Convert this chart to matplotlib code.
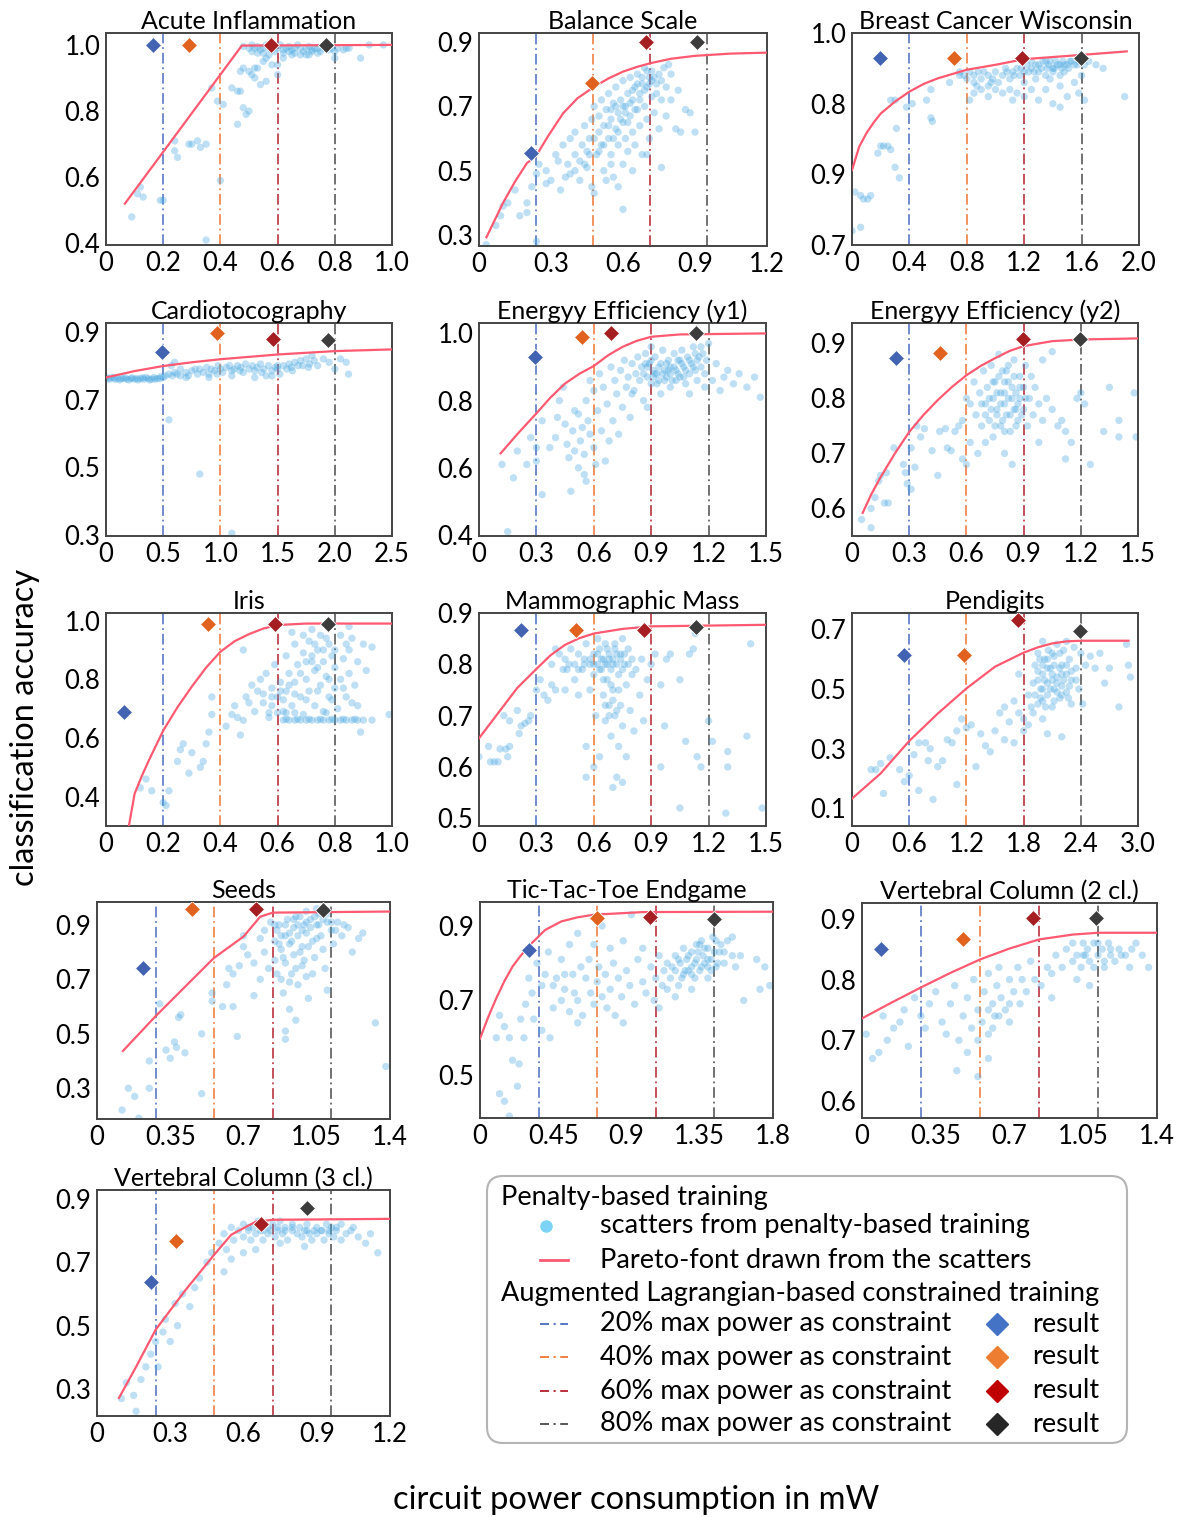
import matplotlib
matplotlib.use("Agg")
import matplotlib.pyplot as plt
from matplotlib.patches import FancyBboxPatch
from matplotlib.lines import Line2D

plt.rcParams["font.family"] = ["Lato", "DejaVu Sans"]

W, H = 1182, 1517

# ---------------- data ----------------
TITLES = ["Acute Inflammation", "Balance Scale", "Breast Cancer Wisconsin",
          "Cardiotocography", "Energyy Efficiency (y1)", "Energyy Efficiency (y2)",
          "Iris", "Mammographic Mass", "Pendigits",
          "Seeds", "Tic-Tac-Toe Endgame", "Vertebral Column (2 cl.)",
          "Vertebral Column (3 cl.)"]

XLIMS = [(0, 1.0), (0, 1.2), (0, 2.0), (0, 2.5), (0, 1.5), (0, 1.5), (0, 1.0),
         (0, 1.5), (0, 3.0), (0, 1.4), (0, 1.8), (0, 1.4), (0, 1.2)]
XTICKS = [[0, 0.2, 0.4, 0.6, 0.8, 1.0], [0, 0.3, 0.6, 0.9, 1.2],
          [0, 0.4, 0.8, 1.2, 1.6, 2.0], [0, 0.5, 1.0, 1.5, 2.0, 2.5],
          [0, 0.3, 0.6, 0.9, 1.2, 1.5], [0, 0.3, 0.6, 0.9, 1.2, 1.5],
          [0, 0.2, 0.4, 0.6, 0.8, 1.0], [0, 0.3, 0.6, 0.9, 1.2, 1.5],
          [0, 0.6, 1.2, 1.8, 2.4, 3.0], [0, 0.35, 0.7, 1.05, 1.4],
          [0, 0.45, 0.9, 1.35, 1.8], [0, 0.35, 0.7, 1.05, 1.4],
          [0, 0.3, 0.6, 0.9, 1.2]]
XTICKLABELS = [["0", "0.2", "0.4", "0.6", "0.8", "1.0"], ["0", "0.3", "0.6", "0.9", "1.2"],
               ["0", "0.4", "0.8", "1.2", "1.6", "2.0"], ["0", "0.5", "1.0", "1.5", "2.0", "2.5"],
               ["0", "0.3", "0.6", "0.9", "1.2", "1.5"], ["0", "0.3", "0.6", "0.9", "1.2", "1.5"],
               ["0", "0.2", "0.4", "0.6", "0.8", "1.0"], ["0", "0.3", "0.6", "0.9", "1.2", "1.5"],
               ["0", "0.6", "1.2", "1.8", "2.4", "3.0"], ["0", "0.35", "0.7", "1.05", "1.4"],
               ["0", "0.45", "0.9", "1.35", "1.8"], ["0", "0.35", "0.7", "1.05", "1.4"],
               ["0", "0.3", "0.6", "0.9", "1.2"]]

YLIMS = [(0.395, 1.036), (0.266, 0.928), (0.7, 1.0), (0.297, 0.926), (0.397, 1.031),
         (0.55, 0.937), (0.30, 1.026), (0.485, 0.9), (0.041, 0.755), (0.187, 0.984),
         (0.385, 0.964), (0.572, 0.926), (0.215, 0.928)]
YTICKS = [[1.0, 0.8, 0.6, 0.4], [0.9, 0.7, 0.5, 0.3], [1.0, 0.9, 0.8, 0.7],
          [0.9, 0.7, 0.5, 0.3], [1.0, 0.8, 0.6, 0.4], [0.9, 0.8, 0.7, 0.6],
          [1.0, 0.8, 0.6, 0.4], [0.9, 0.8, 0.7, 0.6, 0.5], [0.7, 0.5, 0.3, 0.1],
          [0.9, 0.7, 0.5, 0.3], [0.9, 0.7, 0.5], [0.9, 0.8, 0.7, 0.6],
          [0.9, 0.7, 0.5, 0.3]]
YTICKLABELS = [["1.0", "0.8", "0.6", "0.4"], ["0.9", "0.7", "0.5", "0.3"],
               ["1.0", "0.8", "0.9", "0.7"], ["0.9", "0.7", "0.5", "0.3"],
               ["1.0", "0.8", "0.6", "0.4"], ["0.9", "0.8", "0.7", "0.6"],
               ["1.0", "0.8", "0.6", "0.4"], ["0.9", "0.8", "0.7", "0.6", "0.5"],
               ["0.7", "0.5", "0.3", "0.1"], ["0.9", "0.7", "0.5", "0.3"],
               ["0.9", "0.7", "0.5"], ["0.9", "0.8", "0.7", "0.6"],
               ["0.9", "0.7", "0.5", "0.3"]]

# constraint levels (20/40/60/80 % of max power), per panel
CONSTRAINTS = [[0.2, 0.4, 0.6, 0.8], [0.237, 0.476, 0.713, 0.952], [0.4, 0.8, 1.2, 1.6],
               [0.5, 1.0, 1.5, 2.0], [0.3, 0.6, 0.9, 1.2], [0.3, 0.6, 0.9, 1.2],
               [0.2, 0.4, 0.6, 0.8], [0.3, 0.6, 0.9, 1.2], [0.6, 1.2, 1.8, 2.4],
               [0.28, 0.56, 0.84, 1.12], [0.36, 0.72, 1.08, 1.44], [0.28, 0.56, 0.84, 1.12],
               [0.24, 0.48, 0.72, 0.96]]

# constrained-training results (power, accuracy) for 20/40/60/80 %
RESULTS = [
    [(0.163, 1.0), (0.29, 1.0), (0.576, 1.0), (0.769, 1.0)],
    [(0.215, 0.554), (0.472, 0.773), (0.695, 0.9), (0.91, 0.9)],
    [(0.195, 0.964), (0.711, 0.964), (1.188, 0.964), (1.594, 0.964)],
    [(0.487, 0.839), (0.968, 0.895), (1.457, 0.880), (1.943, 0.876)],
    [(0.291, 0.930), (0.538, 0.99), (0.692, 1.0), (1.133, 1.0)],
    [(0.229, 0.874), (0.461, 0.882), (0.895, 0.908), (1.196, 0.908)],
    [(0.064, 0.69), (0.356, 0.99), (0.591, 0.99), (0.777, 0.99)],
    [(0.221, 0.866), (0.509, 0.866), (0.86, 0.866), (1.135, 0.873)],
    [(0.545, 0.614), (1.175, 0.614), (1.744, 0.733), (2.392, 0.694)],
    [(0.222, 0.743), (0.456, 0.958), (0.76, 0.958), (1.082, 0.953)],
    [(0.303, 0.836), (0.721, 0.921), (1.044, 0.925), (1.44, 0.918)],
    [(0.09, 0.851), (0.479, 0.867), (0.811, 0.902), (1.11, 0.902)],
    [(0.222, 0.637), (0.325, 0.766), (0.67, 0.821), (0.859, 0.872)],
]

# Pareto fronts
PARETO = [
    [(0.066, 0.52), (0.475, 0.998), (1.0, 1.0)],
    [(0.031, 0.293), (0.1, 0.40), (0.15, 0.466), (0.2, 0.524), (0.237, 0.545), (0.29, 0.61),
     (0.35, 0.678), (0.41, 0.725), (0.476, 0.759), (0.54, 0.787), (0.6, 0.808), (0.66, 0.823),
     (0.713, 0.834), (0.8, 0.848), (0.9, 0.857), (1.05, 0.864), (1.2, 0.867)],
    [(0.0, 0.806), (0.05, 0.839), (0.1, 0.858), (0.15, 0.873), (0.2, 0.886), (0.3, 0.903),
     (0.4, 0.917), (0.5, 0.928), (0.6, 0.936), (0.8, 0.948), (1.0, 0.955), (1.2, 0.963),
     (1.6, 0.969), (1.915, 0.974)],
    [(0.0, 0.765), (0.25, 0.784), (0.5, 0.799), (0.75, 0.810), (1.0, 0.819), (1.5, 0.833),
     (2.0, 0.843), (2.5, 0.848)],
    [(0.113, 0.643), (0.2, 0.70), (0.3, 0.762), (0.375, 0.81), (0.45, 0.851), (0.525, 0.88),
     (0.6, 0.903), (0.675, 0.935), (0.75, 0.96), (0.825, 0.978), (0.9, 0.99), (1.05, 0.997),
     (1.5, 1.0)],
    [(0.056, 0.592), (0.1, 0.625), (0.15, 0.657), (0.225, 0.70), (0.3, 0.739), (0.375, 0.77),
     (0.45, 0.797), (0.525, 0.821), (0.6, 0.842), (0.675, 0.859), (0.75, 0.873), (0.825, 0.886),
     (0.9, 0.895), (1.05, 0.904), (1.2, 0.907), (1.5, 0.909)],
    [(0.08, 0.30), (0.1, 0.41), (0.125, 0.47), (0.15, 0.524), (0.2, 0.625), (0.25, 0.705),
     (0.3, 0.775), (0.35, 0.84), (0.4, 0.894), (0.45, 0.93), (0.5, 0.954), (0.55, 0.973),
     (0.6, 0.985), (0.7, 0.99), (1.0, 0.99)],
    [(0.0, 0.656), (0.1, 0.705), (0.2, 0.754), (0.3, 0.791), (0.375, 0.818), (0.45, 0.838),
     (0.525, 0.851), (0.6, 0.86), (0.75, 0.869), (0.9, 0.874), (1.5, 0.877)],
    [(0.0, 0.133), (0.3, 0.217), (0.6, 0.326), (0.9, 0.418), (1.2, 0.502), (1.5, 0.575),
     (1.8, 0.622), (1.95, 0.64), (2.1, 0.653), (2.25, 0.66), (2.4, 0.662), (2.9, 0.662)],
    [(0.124, 0.437), (0.278, 0.563), (0.42, 0.672), (0.558, 0.778), (0.70, 0.857), (0.78, 0.93),
     (0.84, 0.945), (1.4, 0.949)],
    [(0.0, 0.598), (0.05, 0.655), (0.1, 0.706), (0.15, 0.752), (0.2, 0.791), (0.25, 0.82),
     (0.3, 0.846), (0.4, 0.889), (0.5, 0.912), (0.6, 0.923), (0.7, 0.93), (1.0, 0.937),
     (1.8, 0.938)],
    [(0.0, 0.736), (0.14, 0.762), (0.28, 0.787), (0.42, 0.811), (0.56, 0.833), (0.7, 0.851),
     (0.84, 0.866), (1.0, 0.874), (1.12, 0.877), (1.4, 0.877)],
    [(0.09, 0.272), (0.16, 0.37), (0.24, 0.487), (0.36, 0.61), (0.48, 0.724), (0.55, 0.787),
     (0.65, 0.828), (0.72, 0.834), (1.2, 0.837)],
]

# penalty-based training scatters (power, accuracy)
ACUTE_PTS = [
    (0.09, 0.48), (0.11, 0.55), (0.12, 0.57), (0.13, 0.54), (0.19, 0.53), (0.20, 0.53),
    (0.24, 0.68), (0.25, 0.66), (0.24, 0.71), (0.29, 0.70), (0.30, 0.70), (0.32, 0.71),
    (0.33, 0.69), (0.35, 0.70), (0.35, 0.41), (0.40, 0.59), (0.37, 0.87), (0.39, 0.83),
    (0.41, 0.82), (0.44, 0.87), (0.46, 0.86), (0.46, 0.76), (0.47, 0.86), (0.48, 0.81),
    (0.49, 0.79), (0.50, 0.80), (0.47, 0.92), (0.48, 0.93), (0.50, 0.92), (0.51, 0.91),
    (0.52, 0.93), (0.52, 0.90), (0.53, 0.93), (0.54, 0.88), (0.56, 0.89), (0.55, 0.95),
    (0.56, 0.96), (0.58, 0.94), (0.60, 0.91), (0.60, 0.94), (0.62, 0.96), (0.65, 0.97),
    (0.68, 0.97), (0.71, 0.97), (0.72, 0.98), (0.80, 0.98), (0.80, 0.96), (0.89, 0.96),
    (0.92, 1.0), (0.97, 1.0), (0.84, 0.99), (0.76, 0.99),
    (0.48, 0.995), (0.50, 0.99), (0.51, 1.0), (0.52, 0.99), (0.53, 0.995), (0.54, 0.985),
    (0.55, 0.99), (0.56, 1.0), (0.57, 0.99), (0.58, 0.985), (0.59, 0.995), (0.60, 0.99),
    (0.61, 1.0), (0.62, 0.985), (0.63, 0.99), (0.64, 0.995), (0.65, 0.985), (0.66, 0.99),
    (0.67, 1.0), (0.68, 0.99), (0.69, 0.98), (0.70, 0.99), (0.71, 0.995), (0.72, 0.985),
    (0.73, 0.99), (0.74, 0.99), (0.75, 0.98), (0.77, 0.99), (0.78, 0.985), (0.79, 0.99),
    (0.81, 0.99), (0.83, 0.985), (0.85, 0.99), (0.53, 0.975), (0.57, 0.97), (0.62, 0.975),
    (0.66, 0.975), (0.70, 0.97), (0.74, 0.975), (0.51, 0.98), (0.55, 0.975), (0.59, 0.98),
    (0.64, 0.98),
]
BALANCE_PTS = [
    (0.03, 0.27), (0.07, 0.33), (0.09, 0.36), (0.10, 0.39), (0.12, 0.40), (0.15, 0.44),
    (0.17, 0.36), (0.20, 0.37), (0.20, 0.40), (0.22, 0.45), (0.24, 0.49), (0.24, 0.28),
    (0.25, 0.52), (0.28, 0.50), (0.28, 0.46), (0.30, 0.47), (0.32, 0.55), (0.33, 0.53),
    (0.34, 0.44), (0.35, 0.58), (0.37, 0.52), (0.38, 0.49), (0.38, 0.60), (0.40, 0.55),
    (0.40, 0.62), (0.42, 0.53), (0.42, 0.47), (0.43, 0.58), (0.44, 0.64), (0.45, 0.51),
    (0.45, 0.56), (0.46, 0.60), (0.47, 0.66), (0.47, 0.45), (0.48, 0.43), (0.48, 0.70),
    (0.49, 0.55), (0.50, 0.62), (0.50, 0.67), (0.51, 0.58), (0.51, 0.72), (0.52, 0.50),
    (0.52, 0.64), (0.53, 0.69), (0.54, 0.60), (0.54, 0.74), (0.55, 0.55), (0.55, 0.66),
    (0.56, 0.71), (0.56, 0.48), (0.57, 0.63), (0.57, 0.76), (0.58, 0.58), (0.58, 0.68),
    (0.59, 0.72), (0.60, 0.52), (0.60, 0.65), (0.60, 0.78), (0.61, 0.60), (0.61, 0.70),
    (0.62, 0.74), (0.62, 0.56), (0.63, 0.67), (0.63, 0.79), (0.64, 0.62), (0.64, 0.72),
    (0.65, 0.76), (0.65, 0.58), (0.66, 0.69), (0.66, 0.80), (0.67, 0.64), (0.67, 0.74),
    (0.68, 0.77), (0.68, 0.55), (0.69, 0.70), (0.69, 0.82), (0.70, 0.66), (0.70, 0.76),
    (0.71, 0.79), (0.71, 0.60), (0.72, 0.73), (0.72, 0.81), (0.73, 0.68), (0.74, 0.77),
    (0.75, 0.63), (0.75, 0.80), (0.76, 0.72), (0.77, 0.82), (0.78, 0.76), (0.78, 0.67),
    (0.80, 0.80), (0.80, 0.72), (0.82, 0.63), (0.84, 0.62), (0.86, 0.69), (0.88, 0.68),
    (0.90, 0.62), (0.83, 0.75), (0.79, 0.83), (0.60, 0.38), (0.53, 0.47), (0.58, 0.45),
    (0.64, 0.50), (0.70, 0.55), (0.76, 0.51),
    (0.55, 0.69), (0.57, 0.70), (0.59, 0.66), (0.61, 0.68), (0.63, 0.71), (0.65, 0.69),
    (0.67, 0.72), (0.69, 0.75), (0.71, 0.77), (0.73, 0.79), (0.66, 0.77), (0.68, 0.79),
    (0.70, 0.81), (0.62, 0.65), (0.58, 0.62), (0.54, 0.64), (0.56, 0.60), (0.60, 0.70),
    (0.64, 0.75), (0.72, 0.78), (0.74, 0.74), (0.76, 0.78), (0.52, 0.58), (0.48, 0.60),
    (0.46, 0.55), (0.50, 0.56), (0.44, 0.52), (0.40, 0.50), (0.36, 0.48), (0.55, 0.52),
]
BREAST_PTS = [
    (0.02, 0.775), (0.06, 0.77), (0.08, 0.765), (0.11, 0.765), (0.13, 0.77), (0.06, 0.725),
    (0.0, 0.72), (0.18, 0.83), (0.2, 0.84), (0.22, 0.84), (0.25, 0.84), (0.27, 0.835),
    (0.33, 0.795), (0.3, 0.81), (0.31, 0.865), (0.27, 0.905), (0.3, 0.905), (0.38, 0.895),
    (0.42, 0.90), (0.52, 0.905), (0.55, 0.92), (0.55, 0.88), (0.56, 0.875), (0.68, 0.93),
    (0.75, 0.94), (0.8, 0.935), (0.85, 0.93), (0.9, 0.92), (0.95, 0.925), (1.9, 0.91),
    (0.75, 0.945), (0.78, 0.94), (0.82, 0.945), (0.85, 0.94), (0.88, 0.945), (0.90, 0.935),
    (0.92, 0.945), (0.95, 0.94), (0.98, 0.935), (1.00, 0.945), (1.02, 0.93), (1.05, 0.94),
    (1.07, 0.95), (1.10, 0.935), (1.12, 0.945), (1.15, 0.95), (1.17, 0.94), (1.20, 0.945),
    (1.22, 0.955), (1.25, 0.95), (1.27, 0.945), (1.30, 0.955), (1.32, 0.95), (1.35, 0.96),
    (1.37, 0.955), (1.40, 0.95), (1.42, 0.96), (1.45, 0.955), (1.47, 0.96), (1.50, 0.955),
    (1.52, 0.96), (1.55, 0.955), (1.58, 0.96), (1.62, 0.955), (1.65, 0.96), (1.70, 0.955),
    (1.75, 0.95), (1.25, 0.96), (1.30, 0.945), (1.35, 0.94), (1.40, 0.945), (1.45, 0.94),
    (1.28, 0.935), (1.38, 0.935), (1.48, 0.945), (1.20, 0.93), (1.10, 0.92), (1.15, 0.915),
    (1.25, 0.92), (1.35, 0.92), (1.45, 0.925), (1.55, 0.93), (1.60, 0.94), (1.0, 0.92),
    (0.95, 0.91), (0.85, 0.915), (1.05, 0.915), (1.2, 0.91), (1.3, 0.905), (1.4, 0.90),
    (1.5, 0.91), (1.58, 0.915), (1.45, 0.895), (0.82, 0.905), (1.12, 0.905), (1.62, 0.905),
    (1.28, 0.955), (1.33, 0.96), (1.38, 0.96), (1.43, 0.955), (1.48, 0.955), (1.53, 0.96),
    (1.57, 0.955), (1.6, 0.96), (1.36, 0.95), (1.41, 0.95), (1.46, 0.95), (1.51, 0.95),
    (1.23, 0.945), (1.18, 0.95), (1.13, 0.94), (1.08, 0.945), (0.97, 0.93), (0.87, 0.925),
]
CARDIO_PTS = [
    (0.0, 0.765), (0.03, 0.76), (0.05, 0.765), (0.08, 0.76), (0.10, 0.762), (0.12, 0.758),
    (0.15, 0.762), (0.18, 0.76), (0.20, 0.758), (0.22, 0.762), (0.25, 0.76), (0.28, 0.758),
    (0.30, 0.762), (0.33, 0.76), (0.35, 0.765), (0.38, 0.758), (0.40, 0.76), (0.42, 0.765),
    (0.45, 0.762), (0.48, 0.768), (0.50, 0.765), (0.52, 0.77), (0.55, 0.775), (0.58, 0.77),
    (0.60, 0.78), (0.62, 0.775), (0.57, 0.80), (0.60, 0.81), (0.65, 0.79), (0.70, 0.78),
    (0.72, 0.77), (0.75, 0.785), (0.80, 0.775), (0.82, 0.79), (0.85, 0.78), (0.88, 0.795),
    (0.90, 0.775), (0.92, 0.79), (0.95, 0.785), (0.98, 0.80), (1.0, 0.79), (1.02, 0.78),
    (1.05, 0.795), (1.08, 0.80), (1.1, 0.785), (1.12, 0.79), (1.15, 0.80), (1.18, 0.795),
    (1.2, 0.78), (1.22, 0.805), (1.25, 0.79), (1.28, 0.80), (1.3, 0.785), (1.32, 0.795),
    (1.35, 0.805), (1.38, 0.79), (1.4, 0.77), (1.42, 0.80), (1.45, 0.785), (1.48, 0.795),
    (1.5, 0.79), (1.52, 0.775), (1.55, 0.80), (1.58, 0.79), (1.6, 0.805), (1.62, 0.795),
    (1.65, 0.81), (1.68, 0.80), (1.7, 0.815), (1.72, 0.80), (1.75, 0.82), (1.78, 0.805),
    (1.8, 0.83), (1.82, 0.815), (1.85, 0.80), (1.9, 0.82), (1.95, 0.81), (2.0, 0.79),
    (2.05, 0.82), (2.1, 0.81), (2.12, 0.775), (1.1, 0.77), (1.3, 0.765), (0.9, 0.765),
    (0.7, 0.765), (1.45, 0.77), (0.55, 0.64), (0.82, 0.48), (1.1, 0.305),
    (0.02, 0.762), (0.07, 0.764), (0.13, 0.762), (0.17, 0.764), (0.23, 0.764), (0.27, 0.762),
    (0.32, 0.764), (0.37, 0.762), (0.43, 0.76), (0.47, 0.762), (0.65, 0.77), (0.78, 0.79),
    (0.97, 0.775), (1.17, 0.785), (1.36, 0.78), (1.5, 0.80), (1.63, 0.785), (1.77, 0.795),
]
ENERGY1_PTS = [
    (0.12, 0.61), (0.15, 0.41), (0.18, 0.57), (0.2, 0.65), (0.25, 0.61), (0.27, 0.69),
    (0.3, 0.66), (0.3, 0.62), (0.33, 0.52), (0.33, 0.74), (0.37, 0.66), (0.4, 0.69),
    (0.41, 0.75), (0.42, 0.80), (0.44, 0.84), (0.45, 0.73), (0.46, 0.67), (0.47, 0.63),
    (0.48, 0.53), (0.49, 0.71), (0.5, 0.77), (0.5, 0.65), (0.52, 0.76), (0.52, 0.60),
    (0.53, 0.68), (0.54, 0.72), (0.55, 0.58), (0.55, 0.64), (0.56, 0.80), (0.56, 0.56),
    (0.57, 0.74), (0.58, 0.86), (0.58, 0.70), (0.6, 0.83), (0.6, 0.66), (0.61, 0.61),
    (0.62, 0.77), (0.63, 0.88), (0.64, 0.71), (0.65, 0.84), (0.66, 0.62), (0.67, 0.79),
    (0.68, 0.68), (0.69, 0.90), (0.7, 0.74), (0.71, 0.86), (0.72, 0.82), (0.73, 0.70),
    (0.74, 0.89), (0.75, 0.78), (0.76, 0.92), (0.77, 0.84), (0.78, 0.87), (0.79, 0.75),
    (0.8, 0.91), (0.81, 0.83), (0.82, 0.88), (0.83, 0.93), (0.84, 0.86), (0.85, 0.90),
    (0.86, 0.80), (0.87, 0.94), (0.88, 0.87), (0.89, 0.91), (0.9, 0.85), (0.91, 0.89),
    (0.92, 0.93), (0.93, 0.88), (0.94, 0.86), (0.95, 0.91), (0.96, 0.95), (0.97, 0.89),
    (0.98, 0.87), (0.99, 0.92), (1.0, 0.90), (1.01, 0.86), (1.02, 0.94), (1.03, 0.89),
    (1.04, 0.92), (1.05, 0.87), (1.06, 0.95), (1.07, 0.90), (1.08, 0.85), (1.09, 0.93),
    (1.1, 0.88), (1.11, 0.91), (1.12, 0.96), (1.13, 0.89), (1.14, 0.86), (1.15, 0.93),
    (1.16, 0.90), (1.17, 0.94), (1.18, 0.88), (1.19, 0.92), (1.2, 0.97), (1.22, 0.86),
    (1.24, 0.91), (1.26, 0.83), (1.28, 0.87), (1.3, 0.89), (1.33, 0.85), (1.36, 0.88),
    (1.4, 0.84), (1.44, 0.87), (1.47, 0.81), (0.95, 0.82), (0.88, 0.78), (1.0, 0.84),
    (0.9, 0.96), (0.8, 0.82), (1.1, 0.82), (1.18, 0.84),
    (0.86, 0.88), (0.88, 0.90), (0.9, 0.92), (0.92, 0.88), (0.94, 0.90), (0.96, 0.88),
    (0.98, 0.91), (1.0, 0.88), (1.02, 0.90), (1.04, 0.88), (1.06, 0.91), (1.08, 0.89),
    (1.1, 0.92), (1.12, 0.90), (1.14, 0.92), (0.93, 0.85), (0.97, 0.86), (1.03, 0.86),
    (1.07, 0.87), (0.87, 0.91), (0.91, 0.87), (0.99, 0.89), (1.05, 0.92), (1.13, 0.94),
    (1.16, 0.96),
]
ENERGY2_PTS = [
    (0.05, 0.58), (0.1, 0.565), (0.1, 0.60), (0.12, 0.62), (0.14, 0.65), (0.15, 0.66),
    (0.17, 0.61), (0.18, 0.665), (0.19, 0.61), (0.22, 0.71), (0.27, 0.68), (0.28, 0.665),
    (0.29, 0.645), (0.31, 0.635), (0.31, 0.71), (0.33, 0.675), (0.34, 0.75), (0.36, 0.73),
    (0.38, 0.745), (0.42, 0.705), (0.45, 0.66), (0.46, 0.74), (0.49, 0.745), (0.5, 0.71),
    (0.52, 0.705), (0.54, 0.74), (0.56, 0.75), (0.58, 0.69), (0.58, 0.76), (0.6, 0.68),
    (0.6, 0.80), (0.62, 0.79), (0.62, 0.72), (0.64, 0.83), (0.65, 0.77), (0.66, 0.70),
    (0.67, 0.81), (0.68, 0.75), (0.69, 0.85), (0.7, 0.79), (0.7, 0.72), (0.71, 0.82),
    (0.72, 0.76), (0.73, 0.86), (0.74, 0.80), (0.74, 0.73), (0.75, 0.83), (0.76, 0.78),
    (0.77, 0.88), (0.78, 0.81), (0.78, 0.75), (0.79, 0.85), (0.8, 0.79), (0.8, 0.83),
    (0.81, 0.77), (0.82, 0.86), (0.82, 0.80), (0.83, 0.74), (0.84, 0.82), (0.85, 0.78),
    (0.85, 0.87), (0.86, 0.81), (0.87, 0.76), (0.88, 0.84), (0.88, 0.80), (0.9, 0.78),
    (0.9, 0.82), (0.91, 0.86), (0.92, 0.75), (0.93, 0.80), (0.94, 0.84), (0.95, 0.77),
    (0.96, 0.82), (0.98, 0.79), (1.0, 0.87), (1.0, 0.76), (1.02, 0.80), (1.05, 0.78),
    (1.05, 0.885), (1.08, 0.75), (1.1, 0.76), (1.12, 0.74), (1.15, 0.72), (1.18, 0.80),
    (1.2, 0.81), (1.22, 0.79), (1.25, 0.68), (1.32, 0.74), (1.35, 0.82), (1.4, 0.76),
    (1.4, 0.73), (1.48, 0.81), (1.49, 0.73), (0.8, 0.70), (0.84, 0.68), (0.98, 0.72),
    (1.12, 0.69),
    (0.72, 0.80), (0.74, 0.83), (0.76, 0.81), (0.78, 0.79), (0.8, 0.81), (0.82, 0.83),
    (0.84, 0.80), (0.86, 0.78), (0.88, 0.82), (0.76, 0.77), (0.79, 0.76), (0.83, 0.77),
    (0.87, 0.79), (0.73, 0.78), (0.81, 0.85), (0.85, 0.84), (0.77, 0.84), (0.89, 0.77),
    (0.91, 0.80), (0.7, 0.77), (0.68, 0.79), (0.75, 0.75), (0.8, 0.74), (0.86, 0.75),
]
IRIS_PTS = [
    (0.12, 0.43), (0.14, 0.46), (0.16, 0.42), (0.2, 0.38), (0.21, 0.37), (0.22, 0.42),
    (0.25, 0.52), (0.26, 0.56), (0.27, 0.58), (0.29, 0.48), (0.3, 0.55), (0.33, 0.50),
    (0.34, 0.52), (0.35, 0.58), (0.36, 0.62), (0.37, 0.68), (0.37, 0.74), (0.42, 0.64),
    (0.44, 0.68), (0.45, 0.71), (0.46, 0.67), (0.47, 0.61), (0.48, 0.66), (0.49, 0.74),
    (0.5, 0.72), (0.51, 0.78), (0.52, 0.69), (0.53, 0.76), (0.54, 0.80), (0.55, 0.72),
    (0.56, 0.82), (0.57, 0.67), (0.58, 0.77), (0.58, 0.71), (0.59, 0.85), (0.6, 0.74),
    (0.61, 0.79), (0.62, 0.69), (0.63, 0.88), (0.63, 0.76), (0.64, 0.82), (0.65, 0.71),
    (0.66, 0.92), (0.66, 0.79), (0.67, 0.85), (0.68, 0.74), (0.69, 0.89), (0.69, 0.68),
    (0.7, 0.80), (0.71, 0.93), (0.71, 0.76), (0.72, 0.86), (0.73, 0.71), (0.73, 0.83),
    (0.74, 0.90), (0.75, 0.78), (0.75, 0.95), (0.76, 0.69), (0.76, 0.86), (0.77, 0.81),
    (0.78, 0.74), (0.78, 0.92), (0.79, 0.88), (0.8, 0.77), (0.8, 0.84), (0.81, 0.70),
    (0.82, 0.95), (0.82, 0.80), (0.83, 0.87), (0.84, 0.74), (0.85, 0.90), (0.85, 0.82),
    (0.86, 0.94), (0.87, 0.78), (0.88, 0.86), (0.88, 0.71), (0.9, 0.92), (0.91, 0.83),
    (0.93, 0.91), (0.99, 0.68), (0.65, 0.96), (0.72, 0.97), (0.85, 0.98), (0.89, 0.62),
    (0.48, 0.90),
    (0.62, 0.661), (0.64, 0.661), (0.66, 0.661), (0.68, 0.661), (0.70, 0.661), (0.72, 0.661),
    (0.74, 0.661), (0.76, 0.661), (0.78, 0.661), (0.80, 0.661), (0.82, 0.661), (0.84, 0.661),
    (0.86, 0.661), (0.88, 0.661), (0.90, 0.661), (0.63, 0.664), (0.67, 0.664), (0.71, 0.664),
    (0.75, 0.664), (0.79, 0.664), (0.83, 0.664), (0.87, 0.664), (0.93, 0.661),
    (0.57, 0.686), (0.6, 0.686), (0.63, 0.686), (0.66, 0.686), (0.77, 0.686),
    (0.66, 0.75), (0.7, 0.73), (0.74, 0.76), (0.78, 0.80), (0.8, 0.90), (0.76, 0.90),
    (0.72, 0.88), (0.68, 0.82), (0.64, 0.78), (0.62, 0.73), (0.7, 0.86), (0.74, 0.84),
    (0.79, 0.73), (0.83, 0.77), (0.86, 0.72), (0.84, 0.92), (0.77, 0.94), (0.73, 0.92),
    (0.69, 0.95), (0.58, 0.74), (0.61, 0.76), (0.55, 0.75),
]
MAMMO_PTS = [
    (0.0, 0.62), (0.05, 0.64), (0.06, 0.61), (0.08, 0.61), (0.1, 0.61), (0.11, 0.635),
    (0.14, 0.635), (0.15, 0.62), (0.16, 0.64), (0.13, 0.70), (0.16, 0.69), (0.2, 0.71),
    (0.21, 0.665), (0.22, 0.68), (0.24, 0.685), (0.26, 0.69), (0.27, 0.70), (0.3, 0.75),
    (0.32, 0.77), (0.34, 0.74), (0.36, 0.73), (0.38, 0.80), (0.38, 0.76), (0.4, 0.75),
    (0.4, 0.83), (0.42, 0.82), (0.44, 0.79), (0.45, 0.75), (0.45, 0.81), (0.47, 0.80),
    (0.48, 0.83), (0.5, 0.80), (0.5, 0.77), (0.52, 0.82), (0.54, 0.79), (0.55, 0.81),
    (0.56, 0.84), (0.56, 0.64), (0.58, 0.80), (0.58, 0.75), (0.6, 0.82), (0.6, 0.78),
    (0.61, 0.70), (0.62, 0.85), (0.62, 0.80), (0.63, 0.83), (0.63, 0.62), (0.64, 0.79),
    (0.65, 0.81), (0.65, 0.74), (0.66, 0.84), (0.66, 0.69), (0.67, 0.80), (0.67, 0.77),
    (0.68, 0.82), (0.68, 0.72), (0.69, 0.79), (0.69, 0.66), (0.7, 0.81), (0.7, 0.75),
    (0.71, 0.84), (0.71, 0.70), (0.72, 0.80), (0.72, 0.58), (0.73, 0.78), (0.73, 0.64),
    (0.74, 0.82), (0.74, 0.72), (0.75, 0.85), (0.75, 0.68), (0.76, 0.80), (0.77, 0.76),
    (0.77, 0.62), (0.78, 0.83), (0.79, 0.71), (0.8, 0.81), (0.81, 0.67), (0.82, 0.79),
    (0.84, 0.74), (0.85, 0.81), (0.86, 0.69), (0.88, 0.77), (0.9, 0.80), (0.92, 0.82),
    (0.95, 0.76), (0.97, 0.68), (0.98, 0.81), (1.0, 0.82), (1.05, 0.77), (1.08, 0.65),
    (1.1, 0.82), (1.12, 0.83), (1.05, 0.52), (1.14, 0.62), (1.16, 0.60), (1.2, 0.69),
    (1.22, 0.65), (1.29, 0.51), (1.3, 0.60), (1.3, 0.63), (1.4, 0.66), (1.42, 0.84),
    (1.48, 0.52), (1.13, 0.86), (0.95, 0.60), (0.6, 0.60), (0.7, 0.56), (0.75, 0.57),
    (0.52, 0.74), (0.56, 0.58),
    (0.58, 0.81), (0.6, 0.80), (0.62, 0.82), (0.64, 0.81), (0.66, 0.80), (0.68, 0.81),
    (0.7, 0.80), (0.72, 0.82), (0.74, 0.81), (0.76, 0.82), (0.63, 0.79), (0.67, 0.83),
    (0.71, 0.83), (0.65, 0.77), (0.69, 0.76), (0.73, 0.75), (0.7, 0.73), (0.72, 0.71),
    (0.68, 0.70), (0.66, 0.72), (0.75, 0.79), (0.78, 0.80), (0.8, 0.78), (0.55, 0.80),
    (0.52, 0.79), (0.46, 0.79),
]
PENDIGITS_PTS = [
    (0.2, 0.23), (0.25, 0.23), (0.3, 0.25), (0.33, 0.15), (0.4, 0.27), (0.5, 0.23),
    (0.55, 0.19), (0.6, 0.21), (0.65, 0.28), (0.7, 0.32), (0.7, 0.16), (0.77, 0.32),
    (0.8, 0.26), (0.82, 0.30), (0.85, 0.13), (0.9, 0.24), (0.95, 0.26), (1.0, 0.33),
    (1.05, 0.32), (1.1, 0.18), (1.1, 0.36), (1.15, 0.40), (1.2, 0.37), (1.25, 0.38),
    (1.3, 0.24), (1.35, 0.35), (1.4, 0.31), (1.45, 0.29), (1.5, 0.36), (1.55, 0.42),
    (1.6, 0.33), (1.6, 0.44), (1.65, 0.39), (1.7, 0.32), (1.7, 0.46), (1.75, 0.42),
    (1.75, 0.55), (1.8, 0.36), (1.8, 0.40), (1.85, 0.48), (1.85, 0.38), (1.9, 0.42),
    (1.9, 0.52), (1.92, 0.58), (1.95, 0.45), (1.95, 0.62), (1.98, 0.50), (2.0, 0.55),
    (2.0, 0.40), (2.02, 0.60), (2.05, 0.48), (2.05, 0.52), (2.08, 0.57), (2.1, 0.44),
    (2.1, 0.62), (2.12, 0.50), (2.15, 0.54), (2.15, 0.65), (2.18, 0.47), (2.2, 0.58),
    (2.2, 0.51), (2.22, 0.63), (2.25, 0.49), (2.25, 0.55), (2.28, 0.60), (2.3, 0.45),
    (2.3, 0.53), (2.33, 0.64), (2.35, 0.57), (2.38, 0.50), (2.4, 0.62), (2.42, 0.45),
    (2.45, 0.58), (2.5, 0.61), (2.55, 0.57), (2.6, 0.62), (2.65, 0.52), (2.7, 0.57),
    (2.8, 0.44), (2.9, 0.58), (2.92, 0.54), (2.88, 0.65), (2.2, 0.34), (2.05, 0.35),
    (2.0, 0.66), (2.25, 0.66), (2.0, 0.50), (2.1, 0.53), (1.95, 0.53), (2.15, 0.49),
    (2.05, 0.57), (2.2, 0.55), (1.98, 0.47), (2.12, 0.58),
    (1.95, 0.56), (2.0, 0.58), (2.02, 0.53), (2.05, 0.60), (2.08, 0.50), (2.1, 0.55),
    (2.12, 0.61), (2.15, 0.52), (2.18, 0.57), (2.2, 0.48), (2.22, 0.53), (2.25, 0.58),
    (2.28, 0.51), (2.3, 0.56), (2.0, 0.46), (2.03, 0.44), (1.97, 0.60), (2.06, 0.63),
    (2.18, 0.62), (2.35, 0.53), (1.92, 0.48), (2.12, 0.46), (2.27, 0.47), (1.88, 0.44),
]
SEEDS_PTS = [
    (0.12, 0.22), (0.15, 0.30), (0.18, 0.27), (0.2, 0.19), (0.25, 0.40), (0.25, 0.30),
    (0.3, 0.61), (0.33, 0.44), (0.35, 0.41), (0.37, 0.47), (0.38, 0.45), (0.39, 0.56),
    (0.4, 0.57), (0.42, 0.43), (0.5, 0.28), (0.5, 0.50), (0.55, 0.62), (0.55, 0.65),
    (0.6, 0.60), (0.62, 0.68), (0.65, 0.60), (0.67, 0.49), (0.63, 0.74), (0.65, 0.72),
    (0.68, 0.75), (0.7, 0.82), (0.7, 0.86), (0.72, 0.79), (0.75, 0.76), (0.75, 0.64),
    (0.78, 0.85), (0.78, 0.70), (0.8, 0.88), (0.8, 0.80), (0.82, 0.74), (0.83, 0.91),
    (0.85, 0.84), (0.85, 0.77), (0.86, 0.72), (0.87, 0.90), (0.88, 0.81), (0.88, 0.70),
    (0.89, 0.65), (0.9, 0.86), (0.9, 0.76), (0.91, 0.92), (0.92, 0.83), (0.92, 0.59),
    (0.93, 0.72), (0.94, 0.89), (0.94, 0.79), (0.95, 0.55), (0.96, 0.86), (0.96, 0.68),
    (0.97, 0.93), (0.98, 0.82), (0.98, 0.75), (0.99, 0.90), (1.0, 0.87), (1.0, 0.71),
    (1.01, 0.63), (1.02, 0.92), (1.03, 0.84), (1.04, 0.78), (1.05, 0.90), (1.06, 0.94),
    (1.07, 0.86), (1.08, 0.81), (1.09, 0.74), (1.1, 0.91), (1.1, 0.66), (1.12, 0.88),
    (1.13, 0.83), (1.15, 0.91), (1.17, 0.86), (1.2, 0.89), (1.22, 0.80), (1.25, 0.85),
    (1.27, 0.87), (1.33, 0.54), (1.38, 0.38), (0.9, 0.48), (0.9, 0.51), (0.85, 0.90),
    (0.95, 0.93), (1.0, 0.95), (1.05, 0.96),
    (0.86, 0.88), (0.88, 0.86), (0.9, 0.90), (0.92, 0.87), (0.94, 0.92), (0.96, 0.90),
    (0.98, 0.88), (1.0, 0.91), (1.02, 0.89), (1.04, 0.93), (1.06, 0.90), (1.08, 0.92),
    (1.1, 0.94), (1.12, 0.91), (0.93, 0.84), (0.97, 0.80), (1.01, 0.82), (1.05, 0.85),
    (0.89, 0.78), (0.95, 0.74), (0.92, 0.69), (0.99, 0.77), (1.03, 0.72), (0.87, 0.83),
    (1.14, 0.88), (1.18, 0.90),
]
TICTAC_PTS = [
    (0.1, 0.60), (0.12, 0.45), (0.12, 0.66), (0.15, 0.43), (0.15, 0.63), (0.18, 0.60),
    (0.18, 0.39), (0.2, 0.54), (0.23, 0.47), (0.24, 0.53), (0.25, 0.65), (0.27, 0.60),
    (0.28, 0.69), (0.3, 0.76), (0.32, 0.72), (0.33, 0.65), (0.35, 0.80), (0.38, 0.74),
    (0.38, 0.62), (0.4, 0.77), (0.42, 0.83), (0.43, 0.60), (0.45, 0.74), (0.45, 0.68),
    (0.47, 0.76), (0.5, 0.81), (0.5, 0.70), (0.52, 0.73), (0.55, 0.85), (0.55, 0.67),
    (0.57, 0.77), (0.58, 0.72), (0.6, 0.88), (0.6, 0.70), (0.62, 0.79), (0.63, 0.66),
    (0.65, 0.76), (0.67, 0.81), (0.68, 0.72), (0.7, 0.85), (0.7, 0.69), (0.72, 0.75),
    (0.73, 0.79), (0.75, 0.90), (0.75, 0.71), (0.77, 0.77), (0.78, 0.68), (0.8, 0.84),
    (0.8, 0.73), (0.82, 0.80), (0.83, 0.66), (0.85, 0.76), (0.87, 0.71), (0.88, 0.86),
    (0.9, 0.78), (0.92, 0.74), (0.93, 0.93), (0.95, 0.69), (0.97, 0.81), (1.0, 0.75),
    (1.0, 0.84), (1.02, 0.72), (1.05, 0.79), (1.07, 0.70), (1.08, 0.76), (1.1, 0.82),
    (1.12, 0.74), (1.13, 0.78), (1.15, 0.73), (1.15, 0.80), (1.17, 0.76), (1.2, 0.82),
    (1.2, 0.78), (1.22, 0.74), (1.23, 0.80), (1.25, 0.84), (1.25, 0.77), (1.27, 0.81),
    (1.28, 0.78), (1.3, 0.83), (1.3, 0.79), (1.32, 0.76), (1.33, 0.81), (1.35, 0.85),
    (1.35, 0.78), (1.37, 0.82), (1.38, 0.80), (1.4, 0.76), (1.4, 0.84), (1.42, 0.81),
    (1.43, 0.87), (1.45, 0.79), (1.47, 0.83), (1.5, 0.80), (1.52, 0.86), (1.55, 0.82),
    (1.57, 0.79), (1.6, 0.82), (1.62, 0.70), (1.7, 0.81), (1.72, 0.73), (1.78, 0.74),
    (1.75, 0.79), (1.55, 0.87), (1.2, 0.71), (1.1, 0.68), (1.3, 0.73), (0.88, 0.64),
    (0.6, 0.64), (0.52, 0.77),
    (1.18, 0.79), (1.22, 0.81), (1.26, 0.78), (1.28, 0.82), (1.32, 0.80), (1.34, 0.83),
    (1.36, 0.79), (1.38, 0.84), (1.4, 0.81), (1.42, 0.78), (1.44, 0.83), (1.46, 0.80),
    (1.48, 0.85), (1.36, 0.86), (1.3, 0.77), (1.24, 0.76), (1.5, 0.83), (1.45, 0.86),
    (1.33, 0.85), (1.4, 0.79),
]
VERT2_PTS = [
    (0.02, 0.71), (0.05, 0.67), (0.08, 0.68), (0.1, 0.74), (0.12, 0.70), (0.15, 0.72),
    (0.18, 0.73), (0.2, 0.75), (0.22, 0.69), (0.25, 0.77), (0.28, 0.74), (0.3, 0.72),
    (0.32, 0.76), (0.35, 0.78), (0.38, 0.73), (0.4, 0.71), (0.42, 0.76), (0.44, 0.79),
    (0.46, 0.70), (0.48, 0.74), (0.5, 0.68), (0.5, 0.77), (0.52, 0.72), (0.53, 0.80),
    (0.55, 0.70), (0.55, 0.75), (0.57, 0.73), (0.58, 0.78), (0.6, 0.71), (0.6, 0.81),
    (0.62, 0.76), (0.63, 0.74), (0.64, 0.79), (0.65, 0.82), (0.66, 0.77), (0.68, 0.75),
    (0.7, 0.80), (0.7, 0.73), (0.72, 0.78), (0.74, 0.82), (0.75, 0.76), (0.76, 0.80),
    (0.78, 0.78), (0.8, 0.83), (0.82, 0.80), (0.85, 0.79), (0.88, 0.82), (0.9, 0.81),
    (0.92, 0.84), (0.95, 0.82), (0.97, 0.85), (1.0, 0.83), (1.0, 0.86), (1.02, 0.84),
    (1.04, 0.82), (1.05, 0.86), (1.06, 0.84), (1.08, 0.83), (1.1, 0.86), (1.1, 0.82),
    (1.12, 0.84), (1.14, 0.85), (1.15, 0.82), (1.17, 0.86), (1.18, 0.84), (1.2, 0.83),
    (1.22, 0.85), (1.25, 0.84), (1.27, 0.82), (1.3, 0.86), (1.33, 0.84), (1.36, 0.82),
    (1.02, 0.80), (1.08, 0.79), (0.9, 0.77), (0.55, 0.64), (0.45, 0.65), (0.6, 0.67),
    (1.05, 0.84), (1.12, 0.86), (1.18, 0.85), (1.23, 0.84), (1.28, 0.85), (1.15, 0.83),
    (1.07, 0.85), (0.6, 0.75), (0.65, 0.74), (0.7, 0.76), (0.62, 0.72),
]
VERT3_PTS = [
    (0.1, 0.27), (0.12, 0.32), (0.15, 0.28), (0.16, 0.23), (0.18, 0.33), (0.2, 0.37),
    (0.22, 0.41), (0.24, 0.45), (0.25, 0.37), (0.27, 0.48), (0.28, 0.52), (0.3, 0.45),
    (0.32, 0.57), (0.33, 0.50), (0.35, 0.60), (0.38, 0.56), (0.4, 0.62), (0.42, 0.65),
    (0.45, 0.70), (0.47, 0.73), (0.5, 0.76), (0.52, 0.79), (0.53, 0.74), (0.55, 0.81),
    (0.56, 0.77), (0.58, 0.80), (0.6, 0.78), (0.6, 0.82), (0.62, 0.80), (0.63, 0.77),
    (0.64, 0.81), (0.65, 0.79), (0.66, 0.83), (0.67, 0.80), (0.68, 0.77), (0.7, 0.81),
    (0.7, 0.79), (0.72, 0.82), (0.73, 0.78), (0.74, 0.80), (0.75, 0.83), (0.76, 0.79),
    (0.77, 0.81), (0.78, 0.77), (0.8, 0.80), (0.8, 0.82), (0.82, 0.79), (0.83, 0.81),
    (0.84, 0.78), (0.85, 0.80), (0.86, 0.82), (0.87, 0.79), (0.88, 0.77), (0.9, 0.81),
    (0.9, 0.79), (0.92, 0.80), (0.93, 0.77), (0.94, 0.82), (0.95, 0.79), (0.96, 0.81),
    (0.97, 0.78), (0.98, 0.80), (1.0, 0.82), (1.0, 0.77), (1.02, 0.79), (1.05, 0.81),
    (1.07, 0.78), (1.1, 0.76), (1.12, 0.79), (1.15, 0.73), (0.55, 0.71), (0.6, 0.73),
    (0.52, 0.67), (0.75, 0.76), (0.85, 0.75), (0.65, 0.74),
    (0.62, 0.81), (0.68, 0.80), (0.74, 0.81), (0.8, 0.81), (0.86, 0.80), (0.92, 0.80),
    (0.98, 0.81), (1.04, 0.80), (0.71, 0.80), (0.77, 0.80), (0.89, 0.80), (0.95, 0.80),
]
SCATTERS = [ACUTE_PTS, BALANCE_PTS, BREAST_PTS, CARDIO_PTS, ENERGY1_PTS, ENERGY2_PTS,
            IRIS_PTS, MAMMO_PTS, PENDIGITS_PTS, SEEDS_PTS, TICTAC_PTS, VERT2_PTS, VERT3_PTS]

LEVEL_LABELS = ["20% max power as constraint", "40% max power as constraint",
                "60% max power as constraint", "80% max power as constraint"]

# ---------------- layout / style ----------------
# axes boxes in pixels: left, top, right, bottom
BOXES = [(106, 33, 392, 245), (479, 33, 767, 246), (852, 33, 1139, 245),
         (106, 323, 392, 536), (479, 323, 766, 536), (852, 323, 1138, 536),
         (106, 613, 392, 826), (479, 613, 766, 826), (852, 613, 1138, 826),
         (97, 902, 390, 1119), (480, 902, 773, 1118), (862, 903, 1157, 1118),
         (97, 1190, 390, 1416)]

LINE_COLORS = ["#4a6cc0", "#ee7733", "#b3202c", "#4a4a4a"]
DIAMOND_COLORS = ["#4262b2", "#e0621e", "#a41e22", "#3c3c3c"]
LEG_DIAMOND_COLORS = ["#4472c4", "#ed7d31", "#c00000", "#262626"]
SCATTER_COLOR = "#45a6e0"
PARETO_COLOR = "#ff5a72"
DASHDOT = (0, (7, 2.5, 1.2, 2.5))
FS = 18.5
TFS = 18

fig = plt.figure(figsize=(W / 100, H / 100), dpi=100)

for i, (l, t, r, b) in enumerate(BOXES):
    ax = fig.add_axes([l / W, 1 - b / H, (r - l) / W, (b - t) / H])
    pts = SCATTERS[i]
    ax.scatter([p[0] for p in pts], [p[1] for p in pts], s=28, color=SCATTER_COLOR,
               alpha=0.34, edgecolors="none", zorder=2)
    par = PARETO[i]
    ax.plot([p[0] for p in par], [p[1] for p in par], color=PARETO_COLOR, lw=1.6, zorder=3)
    for k, xc in enumerate(CONSTRAINTS[i]):
        ax.axvline(xc, color=LINE_COLORS[k], lw=1.1, linestyle=DASHDOT, zorder=1)
    for k, (xr, yr) in enumerate(RESULTS[i]):
        ax.plot(xr, yr, marker="D", ms=8, color=DIAMOND_COLORS[k], mec="white", mew=0.6,
                linestyle="none", zorder=4)
    ax.set_xlim(*XLIMS[i])
    ax.set_ylim(*YLIMS[i])
    ax.set_xticks(XTICKS[i], XTICKLABELS[i])
    ax.set_yticks(YTICKS[i], YTICKLABELS[i])
    ax.tick_params(length=0, labelsize=FS, pad=4)
    for sp in ax.spines.values():
        sp.set_color("#444444")
        sp.set_linewidth(1.4)
    ax.set_title(TITLES[i], fontsize=TFS, pad=3)

fig.text(25 / W, 1 - 727 / H, "classification accuracy", rotation=90, fontsize=23.5,
         ha="center", va="center")
fig.text(636 / W, 1 - 1500 / H, "circuit power consumption in mW", fontsize=23.5,
         ha="center", va="center")

# ---------------- hand-made legend box ----------------
lg = fig.add_axes([0, 0, 1, 1], facecolor="none")
lg.set_xlim(0, W)
lg.set_ylim(H, 0)
lg.axis("off")
lg.add_patch(FancyBboxPatch((487, 1176), 640, 267, boxstyle="round,pad=0,rounding_size=16",
                            fc="white", ec="#b4b4b4", lw=1.5))
LFS = 19.5
lg.text(501, 1197, "Penalty-based training", fontsize=LFS, va="center")
lg.plot(546, 1226, "o", ms=8, color="#7dd3f5")
lg.text(600, 1226, "scatters from penalty-based training", fontsize=LFS, va="center")
lg.add_line(Line2D([540, 568], [1260, 1260], color=PARETO_COLOR, lw=2))
lg.text(600, 1260, "Pareto-font drawn from the scatters", fontsize=LFS, va="center")
lg.text(501, 1294, "Augmented Lagrangian-based constrained training", fontsize=LFS, va="center")
for k, ly in enumerate([1324, 1357, 1391, 1424]):
    lg.add_line(Line2D([540, 568], [ly, ly], color=LINE_COLORS[k], lw=1.3,
                       linestyle=(0, (5, 2.5, 1.2, 2.5))))
    lg.text(600, ly, LEVEL_LABELS[k], fontsize=LFS, va="center")
    lg.plot(997, ly, marker="D", ms=11, color=LEG_DIAMOND_COLORS[k], linestyle="none")
    lg.text(1032, ly, "result", fontsize=LFS, va="center")

fig.savefig("out.png", dpi=100)
